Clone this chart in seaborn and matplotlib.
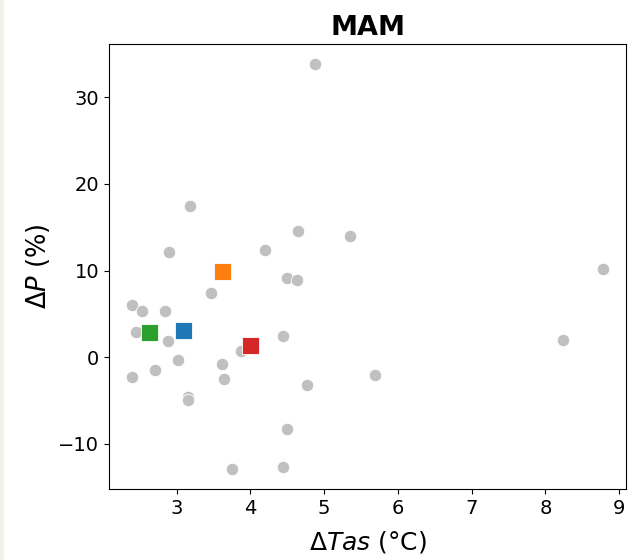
import pandas as pd
import matplotlib.pyplot as plt
import matplotlib.patches as mpatches
import seaborn as sns

# Individual models (gray) for MAM
dtas = [4.88, 3.18, 2.90, 4.20, 4.64, 5.35, 3.47, 4.50, 4.63, 2.40,
        2.53, 2.85, 2.45, 2.88, 3.02, 2.71, 2.40, 3.62, 3.65, 3.87,
        4.44, 4.77, 3.16, 3.16, 4.50, 3.75, 4.44, 5.69, 8.24, 8.78]
dp = [33.79, 17.47, 12.10, 12.40, 14.55, 14.01, 7.44, 9.17, 8.91, 6.03,
      5.37, 5.37, 2.88, 1.91, -0.31, -1.46, -2.24, -0.74, -2.47, 0.73,
      2.45, -3.23, -4.61, -4.92, -8.34, -12.87, -12.67, -2.07, 2.03, 10.17]

# Group means (squares)
group_names = ["blue", "orange", "green", "red"]
group_dtas = [3.09, 3.62, 2.63, 4.00]
group_dp = [3.06, 9.91, 2.83, 1.30]
group_colors = ["tab:blue", "tab:orange", "tab:green", "tab:red"]

models_df = pd.DataFrame({"dtas": dtas, "dp": dp})
groups_df = pd.DataFrame({"dtas": group_dtas, "dp": group_dp, "group": group_names})

fig = plt.figure(figsize=(6.36, 5.6), dpi=100)
ax = fig.add_axes([0.171, 0.127, 0.814, 0.794])

# beige strip on the left edge of the screenshot
fig.patches.append(mpatches.Rectangle((0, 0), 4 / 636, 1, transform=fig.transFigure,
                                      facecolor="#f3f1ea", edgecolor="none", zorder=0))

sns.scatterplot(data=models_df, x="dtas", y="dp", color="silver", s=80,
                edgecolor="white", linewidth=0.6, ax=ax, zorder=2)
sns.scatterplot(data=groups_df, x="dtas", y="dp", hue="group", palette=group_colors,
                marker="s", s=150, edgecolor="white", linewidth=0.6,
                legend=False, ax=ax, zorder=3)

ax.set_title("MAM", fontsize=19.5, fontweight="bold", pad=7)
ax.set_xlabel(r"$\Delta Tas$ (°C)", fontsize=18, labelpad=8)
ax.set_ylabel(r"$\Delta P$ (%)", fontsize=18.5)
ax.tick_params(labelsize=14)

fig.savefig("out.png", dpi=100)
